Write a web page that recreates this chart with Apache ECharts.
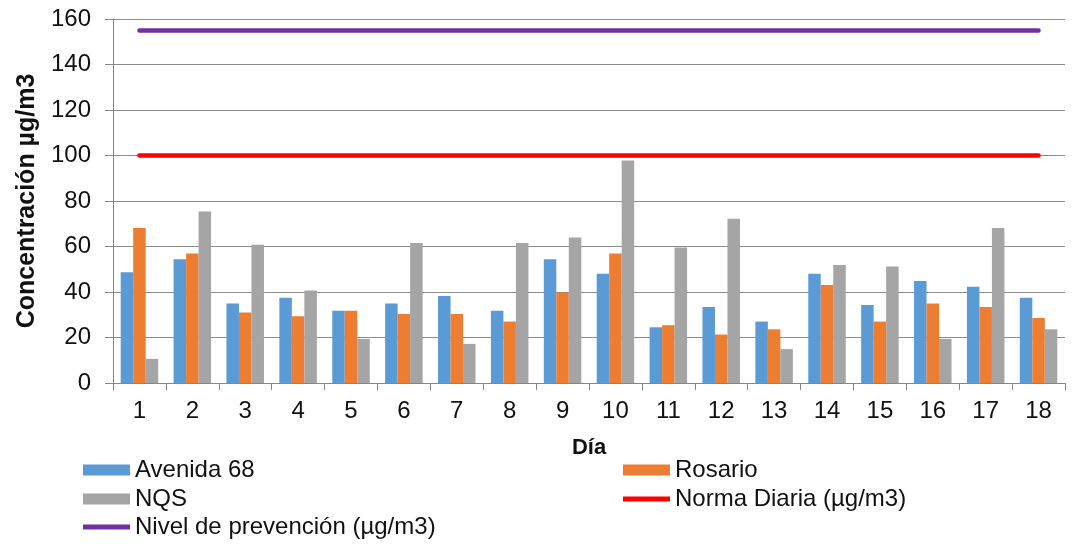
<!DOCTYPE html>
<html><head><meta charset="utf-8">
<script src="https://cdn.jsdelivr.net/npm/echarts@6/dist/echarts.min.js"></script>
<style>html,body{margin:0;padding:0;background:#fff}#c{width:1079px;height:546px}</style>
</head><body><div id="c"></div>
<script>
const days = ['1','2','3','4','5','6','7','8','9','10','11','12','13','14','15','16','17','18'];
const avenida68 = [48.7,54.4,35,37.5,31.8,35,38.2,31.8,54.4,48,24.5,33.4,27,48,34.3,44.8,42.3,37.5];
const rosario = [68.1,56.9,31,29.3,31.8,30.3,30.3,27,39.8,56.9,25.4,21.3,23.6,43.1,27,35,33.4,28.6];
const nqs = [10.6,75.4,60.8,40.7,19.4,61.5,17.2,61.5,64,97.8,59.6,72.2,14.9,51.9,51.2,19.4,68.1,23.6];
const normaDiaria = 100;
const nivelPrevencion = 155;
const yTicks = [0,20,40,60,80,100,120,140,160];

const font = 'Liberation Sans, Arial, sans-serif';
const txt = '#111111';
const chart = echarts.init(document.getElementById('c'));
function lg(name, left, top, h){
  return {orient:'horizontal', itemGap:0, itemWidth:47, itemHeight:h,
    data:[{name:name, icon:'rect'}], left:left, top:top, padding:0,
    textStyle:{fontFamily:font,fontSize:24,color:txt,lineHeight:26}};
}
chart.setOption({
  animation:false,
  textStyle:{fontFamily:font},
  grid:{left:113, right:14, top:19, bottom:163},
  legend:[
    lg('Avenida 68', 83, 457, 11),
    lg('Rosario', 623, 457, 11),
    lg('NQS', 83, 486, 11),
    lg('Norma Diaria (µg/m3)', 623, 486, 5),
    lg('Nivel de prevención (µg/m3)', 83, 514, 5)
  ],
  xAxis:{
    type:'category', data:days, boundaryGap:true,
    name:'Día', nameLocation:'middle', nameGap:54,
    nameTextStyle:{fontFamily:font,fontSize:22,fontWeight:'bold',color:txt},
    axisLine:{lineStyle:{color:'#868686',width:1}},
    axisTick:{show:true,length:7,alignWithLabel:false,lineStyle:{color:'#868686'}},
    axisLabel:{fontFamily:font,fontSize:24,color:txt,margin:16}
  },
  yAxis:{
    type:'value', min:yTicks[0], max:yTicks[yTicks.length-1], interval:20,
    name:'Concentración µg/m3', nameLocation:'middle', nameGap:69, nameRotate:90,
    nameTextStyle:{fontFamily:font,fontSize:25,fontWeight:'bold',color:txt},
    axisLine:{show:true,lineStyle:{color:'#868686',width:1}},
    axisTick:{show:true,length:8,lineStyle:{color:'#868686'}},
    axisLabel:{fontFamily:font,fontSize:24,color:txt,margin:22},
    splitLine:{lineStyle:{color:'#8c8c8c',width:1}}
  },
  series:[
    {name:'Avenida 68',type:'bar',data:avenida68,barWidth:12.5,barGap:'0%',itemStyle:{color:'#5B9BD5'}},
    {name:'Rosario',type:'bar',data:rosario,barWidth:12.5,barGap:'0%',itemStyle:{color:'#ED7D31'}},
    {name:'NQS',type:'bar',data:nqs,barWidth:12.5,barGap:'0%',itemStyle:{color:'#A5A5A5'}},
    {name:'Norma Diaria (µg/m3)',type:'line',data:days.map(()=>normaDiaria),showSymbol:false,symbol:'none',lineStyle:{color:'#FF0000',width:4.5,cap:'round'},itemStyle:{color:'#FF0000'}},
    {name:'Nivel de prevención (µg/m3)',type:'line',data:days.map(()=>nivelPrevencion),showSymbol:false,symbol:'none',lineStyle:{color:'#7030A0',width:4.5,cap:'round'},itemStyle:{color:'#7030A0'}}
  ]
});
</script></body></html>
